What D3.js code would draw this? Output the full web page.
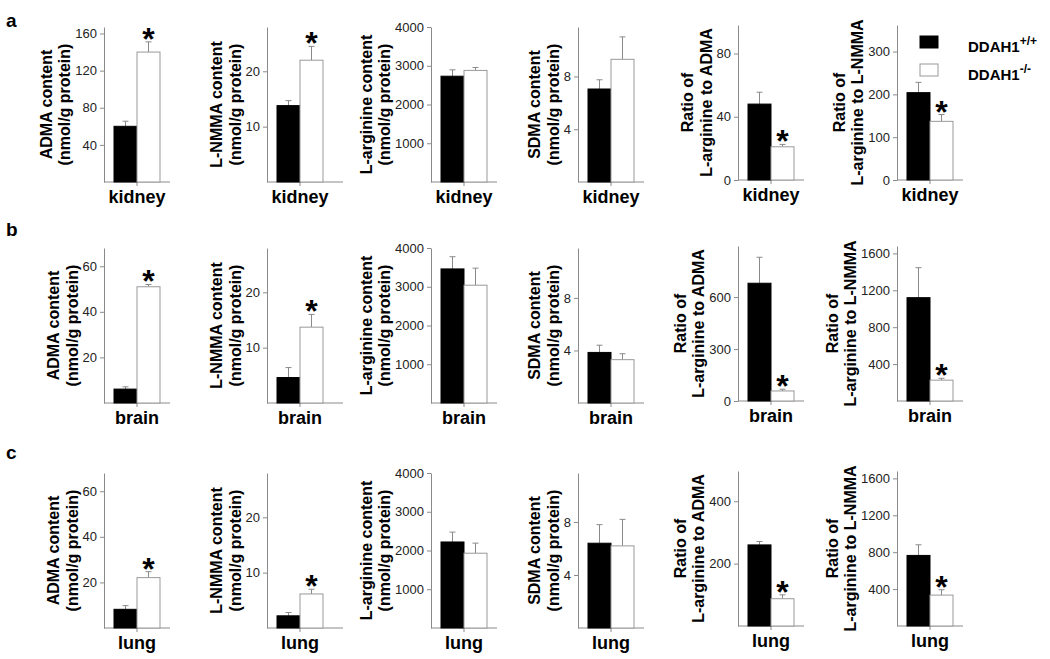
<!DOCTYPE html>
<html>
<head>
<meta charset="utf-8">
<script src="https://cdn.jsdelivr.net/npm/d3@7"></script>
<style>
  body { margin: 0; background: #fff; }
  text { font-family: "Liberation Sans", Arial, sans-serif; }
</style>
</head>
<body>
<script>
// organs (rows) and measures (columns)
var organs = ["kidney", "brain", "lung"];
var panelLetters = ["a", "b", "c"];
var measureLabels = [
    ["ADMA content", "(nmol/g protein)"],
    ["L-NMMA content", "(nmol/g protein)"],
    ["L-arginine content", "(nmol/g protein)"],
    ["SDMA content", "(nmol/g protein)"],
    ["Ratio of", "L-arginine to ADMA"],
    ["Ratio of", "L-arginine to L-NMMA"]
];
var groups = ["DDAH1+/+", "DDAH1-/-"];

// means and errors, one row per organ, one entry per measure
var wtMean = [
    [60, 13.8, 2730, 7.05, 48, 204],
    [6.1, 4.6, 3460, 3.85, 680, 1120],
    [8.2, 2.2, 2220, 6.4, 260, 765]
];
var wtErr = [
    [5.5, 0.9, 165, 0.7, 7.5, 24],
    [1.0, 1.8, 315, 0.55, 150, 325],
    [1.6, 0.6, 255, 1.4, 11, 115]
];
var koMean = [
    [140, 22, 2880, 9.3, 21, 137],
    [51, 13.7, 3040, 3.3, 58, 226],
    [22.1, 6.15, 1930, 6.2, 87.5, 335]
];
var koErr = [
    [11, 2.5, 75, 1.7, 1.5, 16],
    [1.0, 2.3, 440, 0.45, 10, 20],
    [2.6, 0.85, 260, 2.0, 12.5, 58]
];
var stars = [
    [1, 1, 0, 0, 1, 1],
    [1, 1, 0, 0, 1, 1],
    [1, 1, 0, 0, 1, 1]
];

// axis extents and tick labels
var yMax = [
    [167, 28, 4000, 11.75, 98, 362],
    [68, 28, 4000, 11.8, 895, 1680],
    [68, 28, 4000, 11.7, 497, 1680]
];
var yTicks = [
    [[40, 80, 120, 160], [10, 20], [1000, 2000, 3000, 4000], [4, 8], [0, 40, 80], [0, 100, 200, 300]],
    [[20, 40, 60], [10, 20], [1000, 2000, 3000, 4000], [4, 8], [0, 300, 600], [400, 800, 1200, 1600]],
    [[20, 40, 60], [10, 20], [1000, 2000, 3000, 4000], [4, 8], [200, 400], [400, 800, 1200, 1600]]
];

// layout
var colX = [104, 267, 431, 578, 738, 897];
var colLen = [66, 76, 66, 66, 66, 66];
var colDy = [0, 0, 0, 0, -2, -2];
var rowBottom = [182, 403, 628];
var letterY = [27, 236, 459];
var axisH = 155;
var gray = "#8a8a8a";

var svg = d3.select("body").append("svg")
    .attr("width", 1050)
    .attr("height", 659);

organs.forEach(function (organ, r)
{
    svg.append("text")
        .attr("x", 6)
        .attr("y", letterY[r])
        .attr("font-size", 19)
        .attr("font-weight", "bold")
        .text(panelLetters[r]);

    measureLabels.forEach(function (lab, c)
    {
        var g = svg.append("g")
            .attr("transform", "translate(" + colX[c] + "," + (rowBottom[r] + colDy[c]) + ")");

        var y = d3.scaleLinear().domain([0, yMax[r][c]]).range([0, -axisH]);
        var x = d3.scaleBand().domain(groups).range([10, 56]);
        var xo = d3.scaleBand().domain([organ]).range([10, 56]);

        // y axis
        var ya = g.append("g")
            .call(d3.axisLeft(y).tickValues(yTicks[r][c]).tickSize(4).tickSizeOuter(0)
                .tickPadding(3).tickFormat(d3.format("d")));
        ya.select(".domain").attr("stroke", gray);
        ya.selectAll(".tick line").attr("stroke", gray);
        ya.selectAll(".tick text").attr("font-size", 13).attr("fill", "#222")
            .attr("font-family", "Liberation Sans, Arial, sans-serif");

        // x axis with organ name
        var xa = g.append("g")
            .call(d3.axisBottom(xo).tickSize(4).tickPadding(4));
        xa.select(".domain").remove();
        xa.selectAll(".tick line").attr("stroke", gray);
        xa.selectAll(".tick text").attr("font-size", 18).attr("font-weight", "bold")
            .attr("fill", "#000").attr("font-family", "Liberation Sans, Arial, sans-serif");
        g.append("line")
            .attr("x1", 0).attr("x2", colLen[c])
            .attr("y1", 0).attr("y2", 0)
            .attr("stroke", gray);

        var means = [wtMean[r][c], koMean[r][c]];
        var errs = [wtErr[r][c], koErr[r][c]];

        // error bars first so that bars cover the lower part
        groups.forEach(function (grp, i)
        {
            var cx = x(grp) + x.bandwidth() / 2;
            var top = y(means[i] + errs[i]);
            g.append("line")
                .attr("x1", cx).attr("x2", cx)
                .attr("y1", y(means[i])).attr("y2", top)
                .attr("stroke", gray);
            g.append("line")
                .attr("x1", cx - 3).attr("x2", cx + 3)
                .attr("y1", top).attr("y2", top)
                .attr("stroke", gray);
        });

        g.selectAll("rect.bar")
            .data(groups)
            .enter().append("rect")
            .attr("class", "bar")
            .attr("x", function (d) { return x(d); })
            .attr("width", x.bandwidth())
            .attr("y", function (d, i) { return y(means[i]); })
            .attr("height", function (d, i) { return -y(means[i]); })
            .attr("fill", function (d, i) { return i == 0 ? "#000" : "#fff"; })
            .attr("stroke", function (d, i) { return i == 0 ? "#000" : "#999"; });

        if (stars[r][c])
            g.append("text")
                .attr("x", x(groups[1]) + x.bandwidth() / 2)
                .attr("y", y(means[1] + errs[1]) + 8)
                .attr("text-anchor", "middle")
                .attr("font-size", 32)
                .attr("font-weight", "bold")
                .text("*");

        // y label, two lines, placed left of the widest tick label
        var tickLeft = d3.min(ya.selectAll(".tick text").nodes(), function (n) { return n.getBBox().x; });
        var cy = -axisH / 2;
        lab.forEach(function (line, k)
        {
            var cx = tickLeft - 10 - (1 - k) * 18.5;
            g.append("text")
                .attr("transform", "translate(" + (cx + 5) + "," + cy + ") rotate(-90)")
                .attr("text-anchor", "middle")
                .attr("font-size", 16)
                .attr("font-weight", "bold")
                .text(line);
        });
    });
});

// legend
var legSup = ["+/+", "-/-"];
groups.forEach(function (grp, i)
{
    svg.append("rect")
        .attr("x", 920).attr("y", 36 + i * 28)
        .attr("width", 18).attr("height", 12)
        .attr("fill", i == 0 ? "#000" : "#fff")
        .attr("stroke", i == 0 ? "#000" : "#999");
    var t = svg.append("text")
        .attr("x", 968).attr("y", 52 + i * 28)
        .attr("font-size", 15)
        .attr("font-weight", "bold");
    t.append("tspan").text("DDAH1");
    t.append("tspan").attr("dy", -7).attr("font-size", 12).text(legSup[i]);
});
</script>
</body>
</html>
